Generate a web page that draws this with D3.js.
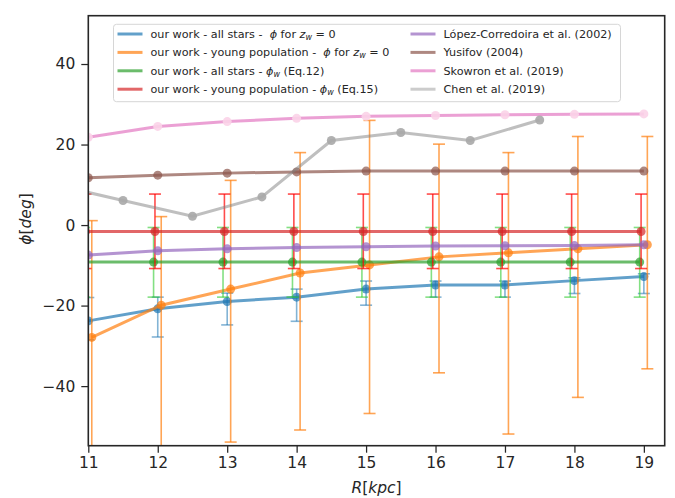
<!DOCTYPE html>
<html>
<head>
<meta charset="utf-8">
<script src="https://cdn.jsdelivr.net/npm/d3@7"></script>
<style>
  body { margin: 0; background: #fff; }
  svg { font-family: "DejaVu Sans", sans-serif; }
</style>
</head>
<body>
<svg id="chart"></svg>
<script>
// radial bins (kpc)
const R = [11, 12, 13, 14, 15, 16, 17, 18, 19];
const R_ALL = [11, 12, 13, 14, 15, 16, 17, 18, 19];
const R_YOUNG = [11.05, 12.05, 13.05, 14.05, 15.05, 16.05, 17.05, 18.05, 19.05];
const R_ALL_W = [10.94, 11.94, 12.94, 13.94, 14.94, 15.94, 16.94, 17.94, 18.94];
const R_YOUNG_W = [10.96, 11.96, 12.96, 13.96, 14.96, 15.96, 16.96, 17.96, 18.96];

// our work - all stars, phi for z_w = 0
const phiAll = [-23.8, -20.8, -19.0, -17.9, -15.9, -14.9, -14.9, -13.8, -12.8];
const phiAllLo = [-28.5, -27.8, -24.8, -23.9, -19.9, -17.9, -17.9, -17.0, -17.0];
const phiAllHi = [-18.0, -17.9, -16.9, -15.9, -13.9, -13.9, -13.9, -13.1, -12.1];

// our work - young population, phi for z_w = 0
const phiYoung = [-27.9, -19.9, -15.9, -11.9, -9.9, -7.9, -6.9, -5.9, -4.9];
const phiYoungLo = [-62, -62, -53.9, -50.9, -46.8, -36.7, -51.9, -42.8, -35.7];
const phiYoungHi = [1.1, 2.1, 11.1, 18.0, 26.0, 20.1, 18.0, 22.0, 22.0];

// our work - all stars, phi_w (Eq.12)
const phiWAll = [-9.2, -9.2, -9.2, -9.2, -9.2, -9.2, -9.2, -9.2, -9.2];
const phiWAllLo = [-17.9, -17.9, -17.9, -17.9, -17.9, -17.9, -17.9, -17.9, -17.9];
const phiWAllHi = [-0.6, -0.6, -0.6, -0.6, -0.6, -0.6, -0.6, -0.6, -0.6];

// our work - young population, phi_w (Eq.15)
const phiWYoung = [-1.6, -1.6, -1.6, -1.6, -1.6, -1.6, -1.6, -1.6, -1.6];
const phiWYoungLo = [-10.8, -10.8, -10.8, -10.8, -10.8, -10.8, -10.8, -10.8, -10.8];
const phiWYoungHi = [7.7, 7.7, 7.7, 7.7, 7.7, 7.7, 7.7, 7.7, 7.7];

// literature
const lopez = [-7.45, -6.4, -5.9, -5.6, -5.4, -5.2, -5.15, -5.1, -4.9];
const yusifov = [11.75, 12.4, 12.9, 13.2, 13.4, 13.4, 13.4, 13.4, 13.4];
const skowron = [21.8, 24.5, 25.7, 26.5, 27.0, 27.2, 27.4, 27.5, 27.6];
const chenR = [10.5, 11.5, 12.5, 13.5, 14.5, 15.5, 16.5, 17.5];
const chen = [10.1, 6.1, 2.2, 7.0, 21.0, 23.0, 21.0, 26.1];

const xTicks = [11, 12, 13, 14, 15, 16, 17, 18, 19];
const yTicks = [-40, -20, 0, 20, 40];

const WIDTH = 675;
const HEIGHT = 498;
const PADDING = { LEFT: 88.3, RIGHT: 10.3, TOP: 15.7, BOTTOM: 52.3 };
const INK = "#262626";

let svg = d3.select("#chart")
  .attr("width", WIDTH)
  .attr("height", HEIGHT);

let xScale = d3.scaleLinear()
  .domain([11, 19.3])
  .range([PADDING.LEFT, WIDTH - PADDING.RIGHT]);
let yScale = d3.scaleLinear()
  .domain([-54.8, 52.0])
  .range([HEIGHT - PADDING.BOTTOM, PADDING.TOP]);

svg.append("defs").append("clipPath")
  .attr("id", "plot-clip")
  .append("rect")
    .attr("x", PADDING.LEFT)
    .attr("y", PADDING.TOP)
    .attr("width", WIDTH - PADDING.RIGHT - PADDING.LEFT)
    .attr("height", HEIGHT - PADDING.BOTTOM - PADDING.TOP);

let plot = svg.append("g").attr("clip-path", "url(#plot-clip)");

const line = d3.line().x(d => xScale(d[0])).y(d => yScale(d[1]));

function drawSeries(xs, ys, opts) {
  let pts = xs.map((x, i) => [x, ys[i]]);
  let g = plot.append("g");
  if (opts.lo) {
    pts.forEach((p, i) => {
      let x = xScale(p[0]);
      let y1 = yScale(opts.lo[i]);
      let y2 = yScale(opts.hi[i]);
      g.append("line")
        .attr("x1", x).attr("x2", x).attr("y1", y1).attr("y2", y2)
        .attr("stroke", opts.barColor).attr("stroke-width", 1.6)
        .attr("opacity", opts.barOpacity);
      [y1, y2].forEach(y => {
        g.append("line")
          .attr("x1", x - 6).attr("x2", x + 6).attr("y1", y).attr("y2", y)
          .attr("stroke", opts.barColor).attr("stroke-width", 1.6)
          .attr("opacity", opts.barOpacity);
      });
    });
  }
  g.append("path")
    .datum(pts)
    .attr("d", line)
    .attr("fill", "none")
    .attr("stroke", opts.color)
    .attr("stroke-width", 3)
    .attr("stroke-opacity", opts.lineOpacity || 0.7);
  g.selectAll("circle")
    .data(pts)
    .enter()
    .append("circle")
      .attr("cx", d => xScale(d[0]))
      .attr("cy", d => yScale(d[1]))
      .attr("r", opts.r || 4.5)
      .attr("fill", opts.markerColor || opts.color)
      .attr("fill-opacity", opts.markerOpacity || 0.7);
}

drawSeries(R_ALL, phiAll, {
  color: "#1f77b4", lo: phiAllLo, hi: phiAllHi, barColor: "#1f77b4", barOpacity: 0.55
});
drawSeries(R_YOUNG, phiYoung, {
  color: "#ff7f0e", lo: phiYoungLo, hi: phiYoungHi, barColor: "#ff7f0e", barOpacity: 0.7
});
drawSeries(R_ALL_W, phiWAll, {
  color: "#2ca02c", lo: phiWAllLo, hi: phiWAllHi, barColor: "#32cd32", barOpacity: 0.6
});
drawSeries(R_YOUNG_W, phiWYoung, {
  color: "#d62728", lo: phiWYoungLo, hi: phiWYoungHi, barColor: "#ff0000", barOpacity: 0.7
});
drawSeries(R, lopez, { color: "#9467bd" });
drawSeries(R, yusifov, { color: "#8c564b" });
drawSeries(R, skowron, { color: "#e377c2", markerColor: "#fbd3e8", markerOpacity: 0.9 });
drawSeries(chenR, chen, { color: "#7f7f7f", lineOpacity: 0.5, markerColor: "#a8a8a8", markerOpacity: 0.9 });

// axes
let xAxis = svg.append("g")
  .attr("transform", `translate(0,${HEIGHT - PADDING.BOTTOM})`)
  .call(d3.axisBottom(xScale).tickValues(xTicks).tickSize(7).tickPadding(4).tickFormat(d3.format("d")));
let yAxis = svg.append("g")
  .attr("transform", `translate(${PADDING.LEFT},0)`)
  .call(d3.axisLeft(yScale).tickValues(yTicks).tickSize(7).tickPadding(6)
    .tickFormat(d => d < 0 ? "\u2212" + Math.abs(d) : d));
[xAxis, yAxis].forEach(a => {
  a.select(".domain").remove();
  a.selectAll(".tick line").attr("stroke", INK).attr("stroke-width", 1.25);
  a.selectAll(".tick text")
    .attr("fill", INK)
    .style("font-family", "DejaVu Sans")
    .style("font-size", "15.5px");
});

// frame
svg.append("rect")
  .attr("x", PADDING.LEFT)
  .attr("y", PADDING.TOP)
  .attr("width", WIDTH - PADDING.RIGHT - PADDING.LEFT)
  .attr("height", HEIGHT - PADDING.BOTTOM - PADDING.TOP)
  .attr("fill", "none")
  .attr("stroke", INK)
  .attr("stroke-width", 1.6);

// axis labels
let xl = svg.append("text")
  .attr("x", (PADDING.LEFT + WIDTH - PADDING.RIGHT) / 2)
  .attr("y", 493)
  .attr("text-anchor", "middle")
  .attr("fill", INK)
  .style("font-size", "15.5px");
xl.append("tspan").attr("font-style", "italic").text("R");
xl.append("tspan").text("[");
xl.append("tspan").attr("font-style", "italic").text("kpc");
xl.append("tspan").text("]");

let yl = svg.append("text")
  .attr("transform", "translate(31,219) rotate(-90)")
  .attr("text-anchor", "middle")
  .attr("fill", INK)
  .style("font-size", "15.5px");
yl.append("tspan").attr("font-style", "italic").text("\u03d5");
yl.append("tspan").text("[");
yl.append("tspan").attr("font-style", "italic").text("deg");
yl.append("tspan").text("]");

// legend
const legendItems = [
  { color: "#1f77b4", col: 0, label: [["our work - all stars -  ", ""], ["\u03d5", "i"], [" for ", ""], ["z", "i"], ["w", "s"], [" = 0", ""]] },
  { color: "#ff7f0e", col: 0, label: [["our work - young population -  ", ""], ["\u03d5", "i"], [" for ", ""], ["z", "i"], ["w", "s"], [" = 0", ""]] },
  { color: "#2ca02c", col: 0, label: [["our work - all stars - ", ""], ["\u03d5", "i"], ["w", "s"], [" (Eq.12)", ""]] },
  { color: "#d62728", col: 0, label: [["our work - young population - ", ""], ["\u03d5", "i"], ["w", "s"], [" (Eq.15)", ""]] },
  { color: "#9467bd", col: 1, label: [["L\u00f3pez-Corredoira et al. (2002)", ""]] },
  { color: "#8c564b", col: 1, label: [["Yusifov (2004)", ""]] },
  { color: "#e377c2", col: 1, label: [["Skowron et al. (2019)", ""]] },
  { color: "#7f7f7f", col: 1, label: [["Chen et al. (2019)", ""]], op: 0.4 }
];

svg.append("rect")
  .attr("x", 113.5).attr("y", 24.3)
  .attr("width", 507).attr("height", 77.4)
  .attr("rx", 3)
  .attr("fill", "#fff").attr("fill-opacity", 0.85)
  .attr("stroke", "#d6d6d6").attr("stroke-width", 1);

const colX = [117.5, 410.5];
legendItems.forEach((item, i) => {
  let row = i % 4;
  let cy = 34 + row * 18.4;
  let x0 = colX[item.col];
  svg.append("line")
    .attr("x1", x0).attr("x2", x0 + 25)
    .attr("y1", cy).attr("y2", cy)
    .attr("stroke", item.color).attr("stroke-width", 3)
    .attr("stroke-opacity", item.op || 0.7);
  let t = svg.append("text")
    .attr("x", x0 + 33)
    .attr("y", cy + 4)
    .attr("fill", INK)
    .style("font-size", "11.2px");
  let sub = false;
  item.label.forEach(([s, kind]) => {
    let ts = t.append("tspan").text(s).style("white-space", "pre");
    if (kind === "i") ts.attr("font-style", "italic");
    if (kind === "s") {
      ts.attr("font-style", "italic").attr("font-size", "8px").attr("dy", 2);
      sub = true;
    } else if (sub) {
      ts.attr("dy", -2);
      sub = false;
    }
  });
});
</script>
</body>
</html>
